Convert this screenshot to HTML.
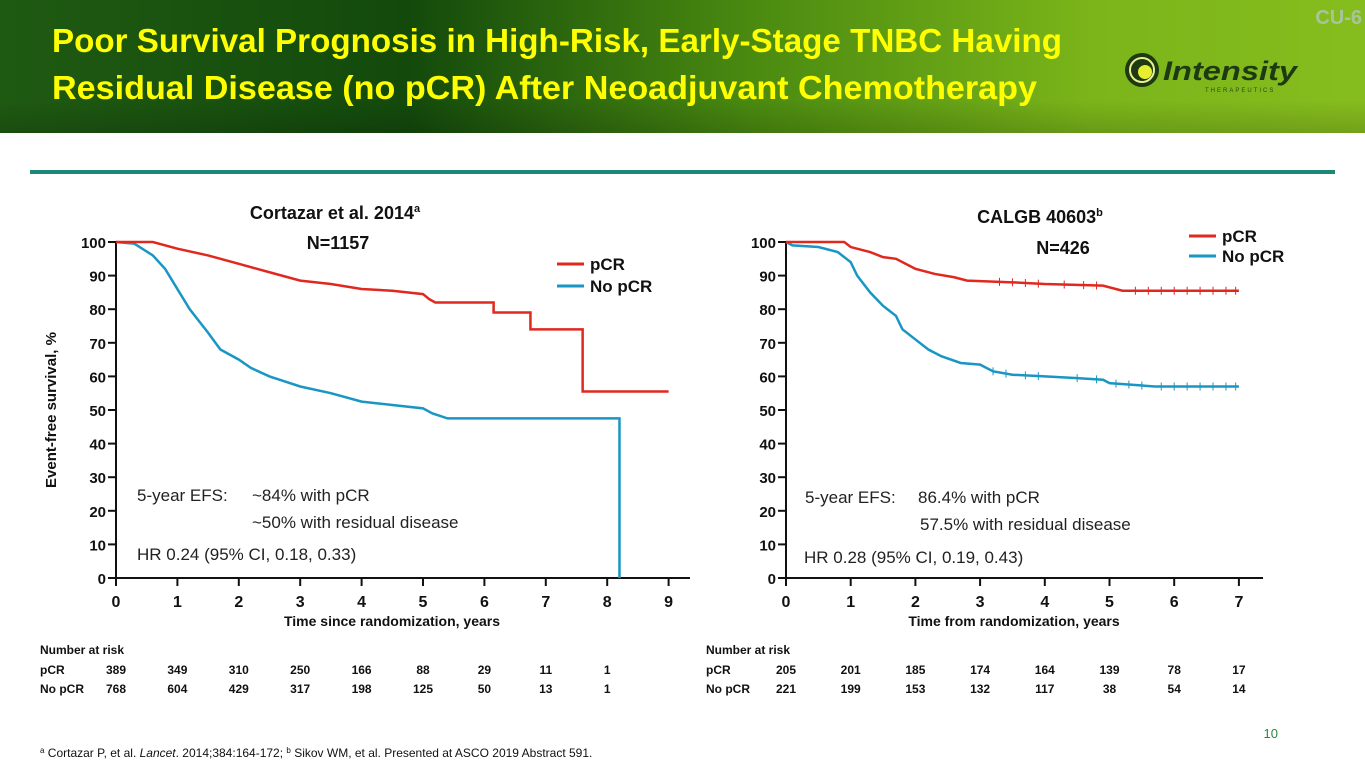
<!DOCTYPE html>
<html><head><meta charset="utf-8"><style>
html,body{margin:0;padding:0;background:#fff;}
svg{display:block;font-family:"Liberation Sans",sans-serif;}
</style></head><body>
<svg width="1365" height="768" viewBox="0 0 1365 768" xmlns="http://www.w3.org/2000/svg">
<defs>
<linearGradient id="hg" x1="0" x2="1" y1="0" y2="0">
<stop offset="0" stop-color="#1f5a12"/><stop offset="0.3" stop-color="#134a0c"/><stop offset="0.55" stop-color="#4a8a10"/><stop offset="0.8" stop-color="#7bb51a"/><stop offset="1" stop-color="#86bd1e"/>
</linearGradient>
<linearGradient id="hs" x1="0" x2="0" y1="0" y2="1"><stop offset="0" stop-color="#000" stop-opacity="0"/><stop offset="1" stop-color="#000" stop-opacity="0.15"/></linearGradient>
</defs>
<g>
<rect x="0" y="0" width="1365" height="133" fill="url(#hg)"/>
<rect x="0" y="100" width="1365" height="33" fill="url(#hs)"/>
<text x="52" y="52" font-size="33" font-weight="bold" fill="#ffff00" textLength="1010" lengthAdjust="spacingAndGlyphs">Poor Survival Prognosis in High-Risk, Early-Stage TNBC Having</text>
<text x="52" y="99" font-size="33" font-weight="bold" fill="#ffff00" textLength="985" lengthAdjust="spacingAndGlyphs">Residual Disease (no pCR) After Neoadjuvant Chemotherapy</text>
<text x="1362" y="24" font-size="20" font-weight="bold" fill="#a9c49a" text-anchor="end">CU-6</text>
<g>
<circle cx="1142" cy="70" r="17" fill="#1d3a12"/>
<circle cx="1142" cy="70" r="12" fill="none" stroke="#e8f090" stroke-width="2"/>
<circle cx="1145" cy="72" r="7" fill="#e6ee30"/>
<text x="1163" y="80" font-size="27" font-weight="bold" font-style="italic" fill="#1d3a12" textLength="134" lengthAdjust="spacingAndGlyphs">Intensity</text>
<text x="1205" y="92" font-size="6" fill="#2a4a18" letter-spacing="2">THERAPEUTICS</text>
</g>
</g>
<rect x="30" y="170" width="1305" height="4" fill="#1e8878"/>

<g id="left"></g>
<g id="right"></g>

<text x="1278" y="738" font-size="13" fill="#2a8a3a" text-anchor="end">10</text>
<text x="40" y="757" font-size="12" fill="#111"><tspan font-size="8" dy="-4">a</tspan><tspan dy="4"> Cortazar P, et al. </tspan><tspan font-style="italic">Lancet</tspan><tspan>. 2014;384:164-172; </tspan><tspan font-size="8" dy="-4">b</tspan><tspan dy="4"> Sikov WM, et al. Presented at ASCO 2019 Abstract 591.</tspan></text>
</svg>
<script>
// Left chart data (Cortazar 2014)
const leftPcrT = [0,0.6,1,1.5,2,2.5,3,3.5,4,4.5,5,5.1,5.2,6.15,6.15,6.75,6.75,7.6,7.6,9];
const leftPcrS = [100,100,98,96,93.5,91,88.5,87.5,86,85.5,84.5,83,82,82,79,79,74,74,55.5,55.5];
const leftNoT = [0,0.3,0.6,0.8,1,1.2,1.5,1.7,2,2.2,2.5,3,3.5,4,4.5,5,5.15,5.4,8.2,8.2];
const leftNoS = [100,99.5,96,92,86,80,73,68,65,62.5,60,57,55,52.5,51.5,50.5,49,47.5,47.5,0];
const leftXTicks = [0,1,2,3,4,5,6,7,8,9];
const leftRiskPcr = ['389','349','310','250','166','88','29','11','1'];
const leftRiskNo = ['768','604','429','317','198','125','50','13','1'];
// Right chart data (CALGB 40603)
const rightPcrT = [0,0.9,1,1.3,1.5,1.7,1.9,2,2.3,2.6,2.8,3.5,4,4.9,5.2,7];
const rightPcrS = [100,100,98.5,97,95.5,95,93,92,90.5,89.5,88.5,88,87.5,87,85.5,85.5];
const rightNoT = [0,0.1,0.5,0.8,1,1.1,1.3,1.5,1.7,1.8,2,2.2,2.4,2.7,3,3.2,3.5,4,4.5,4.9,5,5.7,7];
const rightNoS = [100,99,98.5,97,94,90,85,81,78,74,71,68,66,64,63.5,61.5,60.5,60,59.5,59,58,57,57];
const rightPcrCens = [3.3,3.5,3.7,3.9,4.3,4.6,4.8,5.4,5.6,5.8,6,6.2,6.4,6.6,6.8,6.95];
const rightNoCens = [3.2,3.4,3.7,3.9,4.5,4.8,5.1,5.3,5.5,5.8,6,6.2,6.4,6.6,6.8,6.95];
const rightXTicks = [0,1,2,3,4,5,6,7];
const rightRiskPcr = ['205','201','185','174','164','139','78','17'];
const rightRiskNo = ['221','199','153','132','117','38','54','14'];
const yTicks = [0,10,20,30,40,50,60,70,80,90,100];

const NS='http://www.w3.org/2000/svg';
function mk(tag,attrs,parent,txt){const e=document.createElementNS(NS,tag);for(const k in attrs)e.setAttribute(k,attrs[k]);if(txt!==undefined)e.textContent=txt;parent.appendChild(e);return e;}
function linePath(T,S,x,y){let d='M'+x(T[0])+','+y(S[0]);for(let i=1;i<T.length;i++){d+=' L'+x(T[i])+','+y(S[i]);}return d;}
function interp(T,S,t){for(let i=1;i<T.length;i++){if(T[i]>=t){const a=T[i-1],b=T[i];if(b===a)return S[i];return S[i-1]+(S[i]-S[i-1])*(t-a)/(b-a);}}return S[S.length-1];}

function chart(g,o){
  const x=t=>o.x0+t*o.dx, y=v=>578-v*3.36;
  const ax=mk('g',{},g);
  mk('line',{x1:o.x0,y1:242,x2:o.x0,y2:579,stroke:'#111','stroke-width':2},ax);
  mk('line',{x1:o.x0-1,y1:578,x2:o.xEnd,y2:578,stroke:'#111','stroke-width':2},ax);
  yTicks.forEach(v=>{mk('line',{x1:o.x0-8,y1:y(v),x2:o.x0,y2:y(v),stroke:'#111','stroke-width':2},ax);
    const t=mk('text',{x:o.x0-10,y:y(v)+6,'font-size':15,'font-weight':'bold','text-anchor':'end',fill:'#111'},ax,String(v));
    });
  o.ticks.forEach(v=>{mk('line',{x1:x(v),y1:578,x2:x(v),y2:586,stroke:'#111','stroke-width':2},ax);
    const t=mk('text',{x:x(v),y:607,'font-size':16,'font-weight':'bold','text-anchor':'middle',fill:'#111'},ax,String(v));
    });
  const xt=mk('text',{x:o.xTitleX,y:626,'font-size':14,'font-weight':'bold','text-anchor':'middle',fill:'#111'},g,o.xTitle);
  
  const p1=mk('path',{d:linePath(o.nT,o.nS,x,y),fill:'none',stroke:'#1a96c4','stroke-width':2.5},g);
  
  const p2=mk('path',{d:linePath(o.pT,o.pS,x,y),fill:'none',stroke:'#e0281e','stroke-width':2.5},g);
  
  if(o.pc){o.pc.forEach(t=>{const yy=y(interp(o.pT,o.pS,t));const l=mk('line',{x1:x(t),x2:x(t),y1:yy-4,y2:yy+4,stroke:'#e0281e','stroke-width':1},g);
    });
   o.nc.forEach(t=>{const yy=y(interp(o.nT,o.nS,t));const l=mk('line',{x1:x(t),x2:x(t),y1:yy-4,y2:yy+4,stroke:'#1a96c4','stroke-width':1},g);
    });}
  const rt=mk('g',{'font-size':12,'font-weight':'bold',fill:'#111'},g);
  mk('text',{x:o.rx,y:654},rt,'Number at risk');
  mk('text',{x:o.rx,y:674},rt,'pCR');mk('text',{x:o.rx,y:693},rt,'No pCR');
  o.rp.forEach((v,i)=>mk('text',{x:x(i),y:674,'text-anchor':'middle'},rt,v));
  o.rn.forEach((v,i)=>mk('text',{x:x(i),y:693,'text-anchor':'middle'},rt,v));
}
const L=document.getElementById('left'),R=document.getElementById('right');
chart(L,{x0:116,dx:61.4,xEnd:690,ticks:leftXTicks,xTitle:'Time since randomization, years',xTitleX:392,pT:leftPcrT,pS:leftPcrS,nT:leftNoT,nS:leftNoS,rx:40,rp:leftRiskPcr,rn:leftRiskNo});
chart(R,{x0:786,dx:64.7,xEnd:1263,ticks:rightXTicks,xTitle:'Time from randomization, years',xTitleX:1014,pT:rightPcrT,pS:rightPcrS,nT:rightNoT,nS:rightNoS,pc:rightPcrCens,nc:rightNoCens,rx:706,rp:rightRiskPcr,rn:rightRiskNo});

function label(g,name,attrs,txt){const t=mk('text',attrs,g,txt);return t;}
label(L,'chart-title',{x:335,y:219,'font-size':18,'font-weight':'bold','text-anchor':'middle',fill:'#111'},'').innerHTML='Cortazar et al. 2014<tspan font-size="11" dy="-7">a</tspan>';
label(L,'chart-subtitle',{x:338,y:249,'font-size':18,'font-weight':'bold','text-anchor':'middle',fill:'#111'},'N=1157');
label(L,'y-axis-title',{x:0,y:0,'font-size':15,'font-weight':'bold','text-anchor':'middle',fill:'#111',transform:'translate(56,410) rotate(-90)'},'Event-free survival, %');
label(L,'efs-note-1',{x:137,y:501,'font-size':17,fill:'#222'},'5-year EFS:');
label(L,'efs-note-1b',{x:252,y:501,'font-size':17,fill:'#222'},'~84% with pCR');
label(L,'efs-note-2',{x:252,y:528,'font-size':17,fill:'#222'},'~50% with residual disease');
label(L,'hr-note',{x:137,y:560,'font-size':17,fill:'#222'},'HR 0.24 (95% CI, 0.18, 0.33)');
mk('line',{x1:557,x2:584,y1:264,y2:264,stroke:'#e0281e','stroke-width':3},L);
mk('line',{x1:557,x2:584,y1:286,y2:286,stroke:'#1a96c4','stroke-width':3},L);
label(L,'legend-pcr',{x:590,y:270,'font-size':17,'font-weight':'bold',fill:'#111'},'pCR');
label(L,'legend-no-pcr',{x:590,y:292,'font-size':17,'font-weight':'bold',fill:'#111'},'No pCR');
label(R,'chart-title',{x:1040,y:223,'font-size':18,'font-weight':'bold','text-anchor':'middle',fill:'#111'},'').innerHTML='CALGB 40603<tspan font-size="11" dy="-7">b</tspan>';
label(R,'chart-subtitle',{x:1063,y:254,'font-size':18,'font-weight':'bold','text-anchor':'middle',fill:'#111'},'N=426');
label(R,'efs-note-1',{x:805,y:503,'font-size':17,fill:'#222'},'5-year EFS:');
label(R,'efs-note-1b',{x:918,y:503,'font-size':17,fill:'#222'},'86.4% with pCR');
label(R,'efs-note-2',{x:920,y:530,'font-size':17,fill:'#222'},'57.5% with residual disease');
label(R,'hr-note',{x:804,y:563,'font-size':17,fill:'#222'},'HR 0.28 (95% CI, 0.19, 0.43)');
mk('line',{x1:1189,x2:1216,y1:236,y2:236,stroke:'#e0281e','stroke-width':3},R);
mk('line',{x1:1189,x2:1216,y1:256,y2:256,stroke:'#1a96c4','stroke-width':3},R);
label(R,'legend-pcr',{x:1222,y:242,'font-size':17,'font-weight':'bold',fill:'#111'},'pCR');
label(R,'legend-no-pcr',{x:1222,y:262,'font-size':17,'font-weight':'bold',fill:'#111'},'No pCR');
</script>
</body></html>
